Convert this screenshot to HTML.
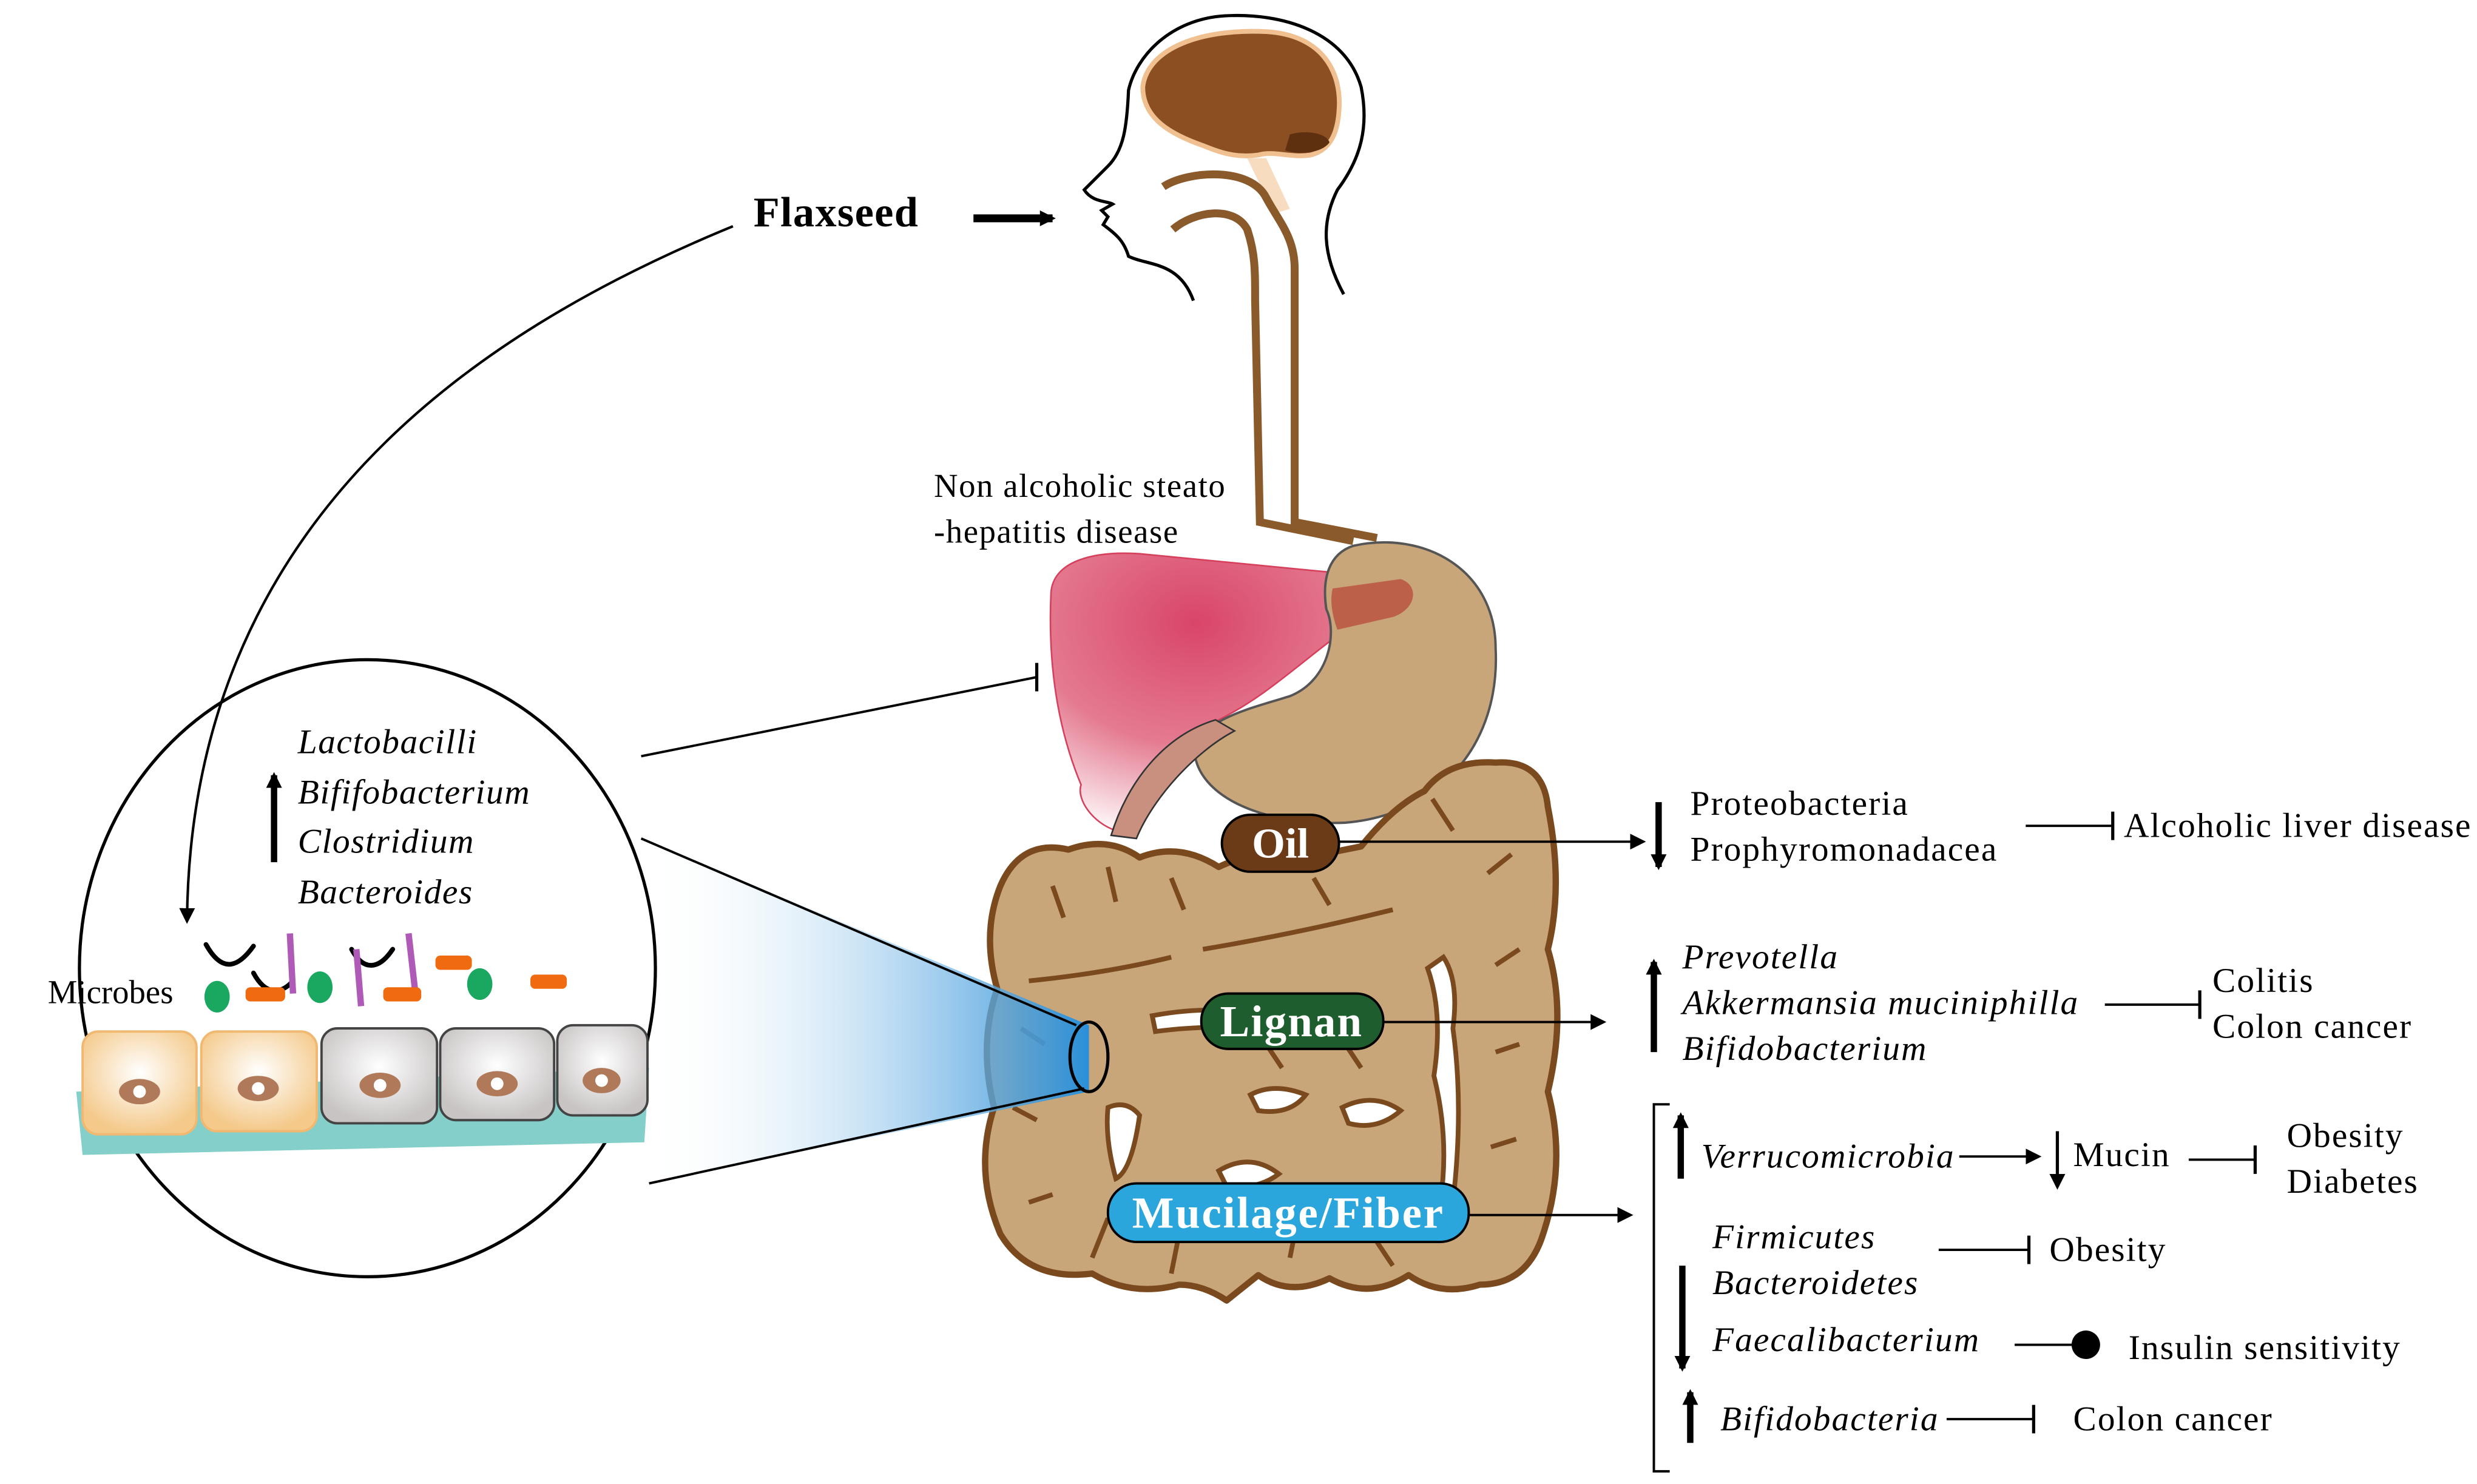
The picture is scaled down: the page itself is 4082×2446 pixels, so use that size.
<!DOCTYPE html>
<html><head><meta charset="utf-8"><style>html,body{margin:0;padding:0;background:#fff}svg{display:block}</style></head><body>
<svg width="4082" height="2446" viewBox="0 0 1565 938" xmlns="http://www.w3.org/2000/svg" font-family="Liberation Serif, serif">
<defs>
<marker id="ah" markerWidth="10" markerHeight="10" refX="8" refY="5" orient="auto" markerUnits="userSpaceOnUse"><path d="M0,0 L10,5 L0,10 Z" fill="#000"/></marker>
<linearGradient id="cone" x1="1" y1="0" x2="0" y2="0"><stop offset="0" stop-color="#2a8fd8"/><stop offset="1" stop-color="#fff" stop-opacity="0"/></linearGradient>
<radialGradient id="liv" cx="0.4" cy="0.25" r="0.8"><stop offset="0" stop-color="#d9456a"/><stop offset="0.55" stop-color="#e47a90"/><stop offset="1" stop-color="#fff"/></radialGradient>
<radialGradient id="cellA" cx="0.5" cy="0.4" r="0.6"><stop offset="0" stop-color="#fff"/><stop offset="1" stop-color="#f4c98a"/></radialGradient>
<radialGradient id="cellB" cx="0.5" cy="0.4" r="0.6"><stop offset="0" stop-color="#fff"/><stop offset="1" stop-color="#c8c4c4"/></radialGradient>
</defs>

<!-- head -->
<path d="M849,186 C835,160 835,140 845,120 C860,100 865,80 860,55 C850,20 810,8 774,10 C740,12 718,35 713,57 C712,80 710,95 700,105 L685,120 C690,128 700,127 703,129 L696,133 L700,137 L697,142 C705,148 710,152 713,162 C725,168 745,165 754,190" fill="none" stroke="#000" stroke-width="2"/>
<path d="M722,55 C725,30 760,18 800,20 C835,22 848,45 846,70 C845,85 840,95 828,98 C815,100 805,95 795,98 C780,100 770,96 760,92 C740,85 722,75 722,55 Z" fill="#8b4f22" stroke="#f0c090" stroke-width="3"/>
<path d="M815,85 C825,82 838,84 840,90 C835,97 820,98 812,95 Z" fill="#5e3010"/>
<path d="M788,100 L805,135 L815,132 L800,100 Z" fill="#f7dcc0"/>
<!-- esophagus -->
<path d="M735,118 C750,108 790,105 800,125 C808,140 818,150 818,170 L818,330 L870,340" fill="none" stroke="#8b5a2b" stroke-width="5"/>
<path d="M741,145 C755,133 780,130 788,145 C793,160 793,170 793,190 L796,330 L855,342" fill="none" stroke="#8b5a2b" stroke-width="5"/>

<!-- Flaxseed -->
<text x="476" y="143" font-size="27" font-weight="bold" letter-spacing="0.5">Flaxseed</text>
<line x1="615" y1="138" x2="665" y2="138" stroke="#000" stroke-width="5" marker-end="url(#ah)"/>

<text x="590" y="314" font-size="21" letter-spacing="0.6">Non alcoholic steato</text>
<text x="590" y="343" font-size="21" letter-spacing="0.6">-hepatitis disease</text>

<!-- liver -->
<path d="M664,375 C665,355 690,348 720,350 L885,366 C898,372 895,385 880,390 L850,398 C820,420 800,440 770,455 C740,470 720,500 705,525 C690,520 680,505 683,496 C668,460 662,420 664,375 Z" fill="url(#liv)" stroke="#d6405c" stroke-width="1"/>
<!-- stomach -->
<path d="M855,345 C900,335 945,360 945,410 C948,470 910,515 850,520 C800,522 760,505 755,478 C755,455 790,448 815,440 C840,430 845,400 838,385 C835,365 840,350 855,345 Z" fill="#c9a57a" stroke="#555" stroke-width="1.5"/>
<path d="M842,372 L885,366 C897,370 895,385 880,390 L845,398 C842,390 840,380 842,372 Z" fill="#b84a3a" opacity="0.75"/>
<path d="M702,528 C712,495 735,465 768,455 L780,462 C755,475 728,505 718,530 Z" fill="#c99080" stroke="#333" stroke-width="1"/>

<!-- intestines -->
<path d="M632,560 Q645,530 675,537 Q700,528 720,542 Q745,532 770,548 Q790,538 810,545 L860,535 Q880,510 900,500 Q915,480 945,482 Q975,480 978,510 Q988,560 978,600 Q990,640 978,690 Q990,735 975,780 Q965,812 935,812 Q910,820 890,806 Q865,822 840,808 Q815,820 795,806 L775,822 Q760,812 745,812 Q715,820 690,805 Q650,810 632,780 Q615,740 628,700 Q618,660 630,625 Q620,590 632,560 Z" fill="#c9a57a" stroke="#7a4a1e" stroke-width="4" stroke-linejoin="round"/>
<g fill="#fff" stroke="#7a4a1e" stroke-width="3">
<path d="M902,612 Q912,640 906,680 Q916,720 910,760 L918,760 Q925,700 918,650 Q922,620 912,605 Z"/>
<path d="M728,642 Q760,636 790,640 L788,650 Q760,648 730,652 Z"/>
<path d="M790,692 Q805,684 825,692 Q815,705 795,702 Z"/>
<path d="M848,700 Q868,690 885,702 Q870,715 852,710 Z"/>
<path d="M770,740 Q790,728 808,742 Q795,752 775,750 Z"/>
<path d="M700,700 Q712,695 720,705 Q715,740 705,745 Q698,720 700,700 Z"/>
<path d="M855,760 Q870,755 880,765 Q870,772 858,770 Z"/>
</g>
<g stroke="#7a4a1e" stroke-width="3" fill="none">
<path d="M650,620 Q700,615 740,605"/><path d="M760,600 Q820,590 880,575"/>
<path d="M665,560 L672,580"/><path d="M700,548 L705,570"/><path d="M740,555 L748,575"/><path d="M830,555 L840,572"/>
<path d="M905,505 L918,525"/><path d="M955,540 L940,552"/><path d="M960,600 L945,610"/><path d="M960,660 L945,665"/><path d="M958,720 L942,725"/>
<path d="M645,650 L660,660"/><path d="M640,700 L655,708"/><path d="M650,760 L665,755"/><path d="M700,770 L690,795"/>
<path d="M745,780 L740,805"/><path d="M820,770 L815,795"/><path d="M870,785 L880,800"/><path d="M800,660 L810,675"/><path d="M850,660 L860,675"/>
</g>

<!-- labels -->
<rect x="772" y="515" width="74" height="36" rx="18" fill="#6b3a16" stroke="#000" stroke-width="1.5"/>
<text x="809" y="542" font-size="27" font-weight="bold" fill="#fff" text-anchor="middle">Oil</text>
<rect x="759" y="628" width="115" height="35" rx="17" fill="#1e5e2e" stroke="#000" stroke-width="1.5"/>
<text x="816" y="655" font-size="28" font-weight="bold" fill="#fff" text-anchor="middle" letter-spacing="0.8">Lignan</text>
<rect x="700" y="748" width="228" height="37" rx="18" fill="#2aa6dc" stroke="#000" stroke-width="1.5"/>
<text x="814" y="776" font-size="28" font-weight="bold" fill="#fff" text-anchor="middle" letter-spacing="1">Mucilage/Fiber</text>

<!-- cone -->
<polygon points="405,530 688,648 688,690 410,748" fill="url(#cone)"/>
<line x1="405" y1="530" x2="680" y2="648" stroke="#000" stroke-width="1.5"/>
<line x1="410" y1="748" x2="685" y2="688" stroke="#000" stroke-width="1.5"/>
<ellipse cx="688" cy="668" rx="12" ry="22" fill="none" stroke="#000" stroke-width="2"/>
<line x1="405" y1="478" x2="655" y2="428" stroke="#000" stroke-width="1.5"/>
<line x1="655" y1="419" x2="655" y2="437" stroke="#000" stroke-width="2"/>

<!-- circle -->
<ellipse cx="232" cy="612" rx="182" ry="195" fill="#fff" stroke="#000" stroke-width="2"/>
<polygon points="48,690 410,675 407,722 52,730" fill="#84cfc9"/>
<g stroke-width="1.5">
<rect x="52" y="652" width="72" height="65" rx="10" fill="url(#cellA)" stroke="#f0b870"/>
<rect x="127" y="652" width="73" height="63" rx="10" fill="url(#cellA)" stroke="#f0b870"/>
<rect x="203" y="650" width="73" height="60" rx="10" fill="url(#cellB)" stroke="#444"/>
<rect x="278" y="650" width="72" height="58" rx="10" fill="url(#cellB)" stroke="#444"/>
<rect x="352" y="648" width="57" height="57" rx="10" fill="url(#cellB)" stroke="#444"/>
</g>
<g fill="#b07a5a"><ellipse cx="88" cy="690" rx="13" ry="8"/><ellipse cx="163" cy="688" rx="13" ry="8"/><ellipse cx="240" cy="686" rx="13" ry="8"/><ellipse cx="314" cy="685" rx="13" ry="8"/><ellipse cx="380" cy="683" rx="12" ry="8"/></g>
<g fill="#fff"><circle cx="88" cy="690" r="4"/><circle cx="163" cy="688" r="4"/><circle cx="240" cy="686" r="4"/><circle cx="314" cy="685" r="4"/><circle cx="380" cy="683" r="4"/></g>
<g stroke="#000" stroke-width="3" fill="none" stroke-linecap="round"><path d="M130,597 C140,615 150,612 160,598"/><path d="M160,615 C168,630 178,628 185,620"/><path d="M222,600 C230,615 240,612 248,600"/></g>
<g stroke="#b05ab8" stroke-width="4"><line x1="183" y1="590" x2="185" y2="628"/><line x1="225" y1="600" x2="228" y2="636"/><line x1="258" y1="590" x2="262" y2="625"/></g>
<g fill="#f06a10"><rect x="155" y="624" width="25" height="9" rx="3"/><rect x="242" y="624" width="24" height="9" rx="3"/><rect x="275" y="604" width="23" height="9" rx="3"/><rect x="335" y="616" width="23" height="9" rx="3"/></g>
<g fill="#1aa860"><ellipse cx="137" cy="630" rx="8" ry="10"/><ellipse cx="202" cy="624" rx="8" ry="10"/><ellipse cx="303" cy="622" rx="8" ry="10"/></g>
<text x="30" y="634" font-size="21">Microbes</text>
<line x1="173" y1="545" x2="173" y2="490" stroke="#000" stroke-width="4" marker-end="url(#ah)"/>
<g font-size="22" font-style="italic" letter-spacing="0.6"><text x="188" y="476">Lactobacilli</text><text x="188" y="508">Bififobacterium</text><text x="188" y="539">Clostridium</text><text x="188" y="571">Bacteroides</text></g>

<path d="M463,143 C300,210 120,330 118,582" fill="none" stroke="#000" stroke-width="1.6" marker-end="url(#ah)"/>

<!-- right side -->
<g font-size="22" letter-spacing="0.8">
<line x1="846" y1="532" x2="1038" y2="532" stroke="#000" stroke-width="1.5" marker-end="url(#ah)"/>
<line x1="1048" y1="507" x2="1048" y2="548" stroke="#000" stroke-width="4" marker-end="url(#ah)"/>
<text x="1068" y="515">Proteobacteria</text><text x="1068" y="544">Prophyromonadacea</text>
<line x1="1280" y1="522" x2="1335" y2="522" stroke="#000" stroke-width="1.5"/><line x1="1335" y1="513" x2="1335" y2="531" stroke="#000" stroke-width="2"/>
<text x="1342" y="529">Alcoholic liver disease</text>

<line x1="874" y1="646" x2="1013" y2="646" stroke="#000" stroke-width="1.5" marker-end="url(#ah)"/>
<line x1="1045" y1="665" x2="1045" y2="608" stroke="#000" stroke-width="4" marker-end="url(#ah)"/>
<g font-style="italic"><text x="1063" y="612">Prevotella</text><text x="1063" y="641">Akkermansia muciniphilla</text><text x="1063" y="670">Bifidobacterium</text></g>
<line x1="1330" y1="635" x2="1390" y2="635" stroke="#000" stroke-width="1.5"/><line x1="1390" y1="626" x2="1390" y2="644" stroke="#000" stroke-width="2"/>
<text x="1398" y="627">Colitis</text><text x="1398" y="656">Colon cancer</text>

<line x1="928" y1="768" x2="1030" y2="768" stroke="#000" stroke-width="1.5" marker-end="url(#ah)"/>
<path d="M1055,698 L1045,698 L1045,930 L1055,930" fill="none" stroke="#000" stroke-width="1.5"/>
<line x1="1062" y1="745" x2="1062" y2="705" stroke="#000" stroke-width="4" marker-end="url(#ah)"/>
<text x="1075" y="738" font-style="italic">Verrucomicrobia</text>
<line x1="1238" y1="731" x2="1288" y2="731" stroke="#000" stroke-width="1.5" marker-end="url(#ah)"/>
<line x1="1300" y1="715" x2="1300" y2="750" stroke="#000" stroke-width="2" marker-end="url(#ah)"/>
<text x="1310" y="737">Mucin</text>
<line x1="1383" y1="733" x2="1425" y2="733" stroke="#000" stroke-width="1.5"/><line x1="1425" y1="724" x2="1425" y2="742" stroke="#000" stroke-width="2"/>
<text x="1445" y="725">Obesity</text><text x="1445" y="754">Diabetes</text>
<g font-style="italic"><text x="1082" y="789">Firmicutes</text><text x="1082" y="818">Bacteroidetes</text><text x="1082" y="854">Faecalibacterium</text><text x="1087" y="904">Bifidobacteria</text></g>
<line x1="1225" y1="790" x2="1282" y2="790" stroke="#000" stroke-width="1.5"/><line x1="1282" y1="781" x2="1282" y2="799" stroke="#000" stroke-width="2"/>
<text x="1295" y="797">Obesity</text>
<line x1="1063" y1="800" x2="1063" y2="865" stroke="#000" stroke-width="4" marker-end="url(#ah)"/>
<line x1="1273" y1="850" x2="1310" y2="850" stroke="#000" stroke-width="1.5"/><circle cx="1318" cy="850" r="9" fill="#000"/>
<text x="1345" y="859">Insulin sensitivity</text>
<line x1="1068" y1="912" x2="1068" y2="880" stroke="#000" stroke-width="4" marker-end="url(#ah)"/>
<line x1="1230" y1="897" x2="1285" y2="897" stroke="#000" stroke-width="1.5"/><line x1="1285" y1="888" x2="1285" y2="906" stroke="#000" stroke-width="2"/>
<text x="1310" y="904">Colon cancer</text>
</g>
</svg>
</body></html>
